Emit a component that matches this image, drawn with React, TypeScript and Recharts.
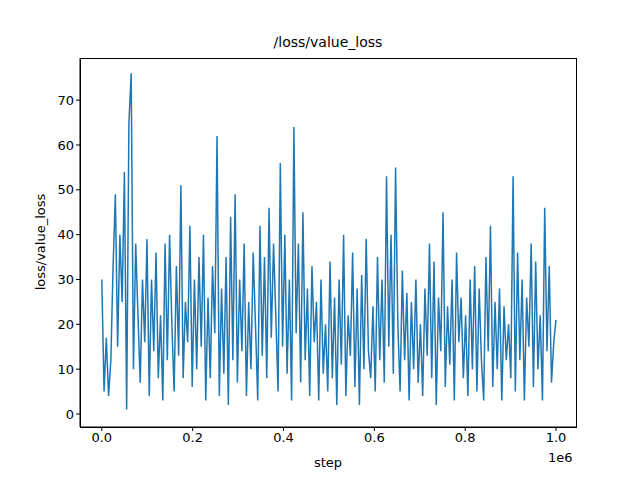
import { LineChart, Line, XAxis, YAxis } from "recharts";

// loss values, evenly spaced from step 0 to 1e6
const lossValues = [
  30, 5, 17, 4, 12, 33, 49, 15, 40, 25, 54, 1, 65, 76, 10, 38, 22, 7, 30, 16, 39,
  4, 30, 14, 36, 8, 22, 3, 38, 12, 40, 20, 5, 33, 13, 51, 8, 25, 16, 42, 6,
  30, 10, 35, 15, 40, 3, 26, 8, 33, 18, 62, 4, 28, 9, 35, 2, 44, 12, 49, 7,
  30, 14, 38, 4, 25, 10, 36, 20, 3, 42, 13, 35, 8, 46, 17, 38, 22, 5, 56, 15,
  40, 9, 30, 3, 64, 18, 38, 7, 45, 12, 28, 4, 33, 16, 25, 3, 30, 9, 20, 5,
  34, 8, 26, 2, 30, 11, 40, 4, 22, 13, 36, 6, 28, 2, 31, 10, 39, 14, 8, 24,
  5, 35, 12, 30, 7, 53, 15, 40, 9, 55, 20, 5, 32, 12, 27, 3, 25, 10, 30, 7,
  20, 4, 28, 13, 38, 8, 34, 2, 26, 14, 45, 6, 24, 11, 30, 3, 36, 16, 26, 8,
  22, 4, 30, 10, 33, 5, 28, 12, 3, 35, 14, 42, 6, 25, 10, 28, 3, 24, 12, 20,
  8, 53, 5, 36, 12, 30, 3, 26, 15, 38, 6, 34, 10, 22, 3, 46, 14, 33, 7, 16, 21,
];
const xTicks = [0, 200000, 400000, 600000, 800000, 1000000];
const yTicks = [0, 10, 20, 30, 40, 50, 60, 70];

const data = lossValues.map((v, i) => ({
  step: (i * 1000000) / (lossValues.length - 1),
  loss: v,
}));

const font = "DejaVu Sans, sans-serif";
const tick = { fontSize: 13, fill: "#000", fontFamily: font };

export default function App() {
  return (
    <div style={{ position: "absolute", left: 0, top: 0, width: 640, height: 480, background: "#fff", fontFamily: font }}>
      <LineChart width={640} height={480} data={data} margin={{ top: 58, right: 64, bottom: 23, left: 40 }}>
        <XAxis
          dataKey="step"
          type="number"
          domain={[-48000, 1044000]}
          ticks={xTicks}
          tickFormatter={(v: number) => (v / 1e6).toFixed(1)}
          tick={tick}
          stroke="#000"
          tickSize={4}
          height={30}
          allowDataOverflow
        />
        <YAxis
          type="number"
          domain={[-2.9, 79.4]}
          ticks={yTicks}
          tick={tick}
          stroke="#000"
          tickSize={4}
          width={40}
          allowDataOverflow
        />
        <Line dataKey="loss" stroke="#1f77b4" strokeWidth={1.5} dot={false} isAnimationActive={false} />
      </LineChart>
      <div style={{ position: "absolute", left: 80, top: 58, width: 495, height: 368, border: "1px solid #000", pointerEvents: "none" }} />
      <div style={{ position: "absolute", top: 34, left: 80, width: 496, textAlign: "center", fontSize: 14 }}>/loss/value_loss</div>
      <div style={{ position: "absolute", top: 455, left: 80, width: 496, textAlign: "center", fontSize: 13 }}>step</div>
      <div style={{ position: "absolute", top: 450, left: 548, fontSize: 13 }}>1e6</div>
      <div style={{ position: "absolute", left: 40, top: 242, fontSize: 13, transform: "translate(-50%, -50%) rotate(-90deg)", whiteSpace: "nowrap" }}>loss/value_loss</div>
    </div>
  );
}
